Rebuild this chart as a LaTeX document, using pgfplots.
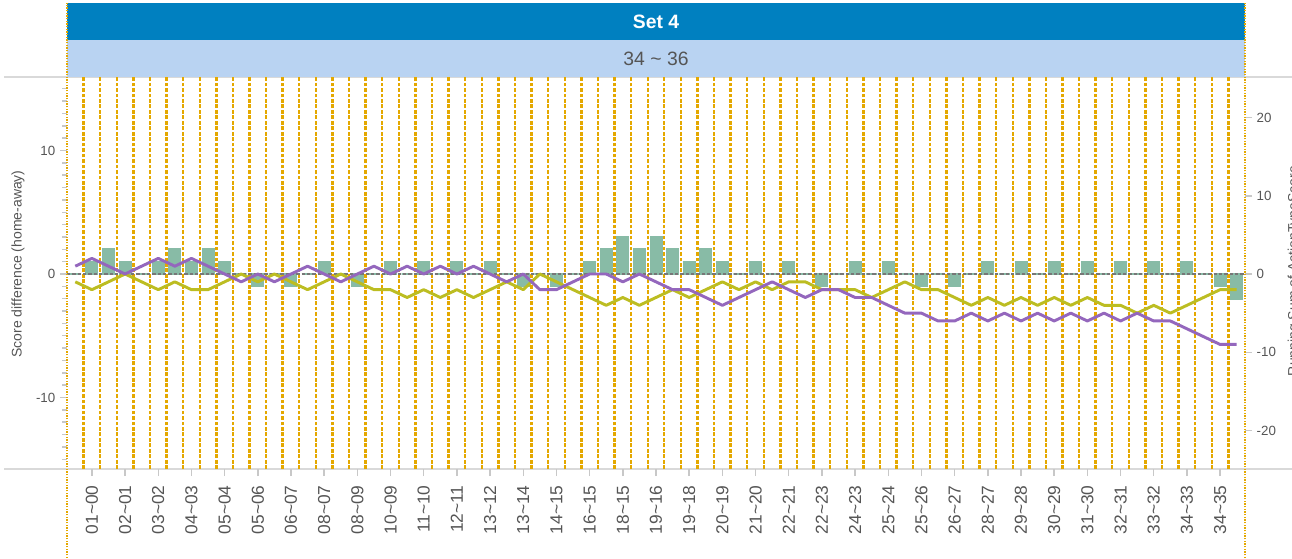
\documentclass[border=0pt]{standalone}
\usepackage{fontspec}
\setmainfont{Liberation Sans}
\usepackage{pgfplots}
\pgfplotsset{compat=1.18}
\definecolor{hdrdark}{RGB}{0,128,192}
\definecolor{hdrlight}{RGB}{185,211,242}
\definecolor{gridorange}{RGB}{228,168,0}
\definecolor{barcol}{RGB}{136,187,166}
\definecolor{purp}{RGB}{148,103,189}
\definecolor{olivec}{RGB}{188,189,34}
\definecolor{txtgray}{RGB}{85,85,85}
\definecolor{tickgray}{RGB}{200,200,200}
\definecolor{rulegray}{RGB}{217,217,217}
\newcommand{\tl}{\textasciitilde}
\begin{document}
\begin{tikzpicture}
\begin{scope}[x=0.75pt,y=0.75pt]
\draw[rulegray, line width=1.5pt] (4,481) -- (1292,481);
\draw[rulegray, line width=1.5pt] (4,89) -- (1292,89);
\fill[hdrdark] (67,518) rectangle (1245,555);
\fill[hdrlight] (67,481) rectangle (1245,518);
\end{scope}

% slot separators
\begin{axis}[
  at={(50.25pt,66.75pt)}, anchor=south west,
  scale only axis, width=883.5pt, height=294pt,
  xmin=-0.5, xmax=70.5, ymin=0, ymax=1, hide axis, clip=false,
]
\pgfplotsinvokeforeach{0.5,1.5,...,69.5}{
  \draw[gridorange, line width=1.8pt, dash pattern=on 2.8pt off 1.3pt] (axis cs:#1,0) -- (axis cs:#1,1);
}
\end{axis}

\begin{axis}[
  at={(50.25pt,66.75pt)}, anchor=south west,
  scale only axis, width=883.5pt, height=294pt,
  xmin=-0.5, xmax=70.5, ymin=-15.79, ymax=15.95,
  axis x line*=bottom, axis y line*=left,
  axis line style={draw=none},
  xtick={1,3,...,69},
  xticklabels={01\tl 00,02\tl 01,03\tl 02,04\tl 03,05\tl 04,05\tl 06,06\tl 07,08\tl 07,08\tl 09,10\tl 09,11\tl 10,12\tl 11,13\tl 12,13\tl 14,14\tl 15,16\tl 15,18\tl 15,19\tl 16,19\tl 18,20\tl 19,21\tl 20,22\tl 21,22\tl 23,24\tl 23,25\tl 24,25\tl 26,26\tl 27,28\tl 27,29\tl 28,30\tl 29,31\tl 30,32\tl 31,33\tl 32,34\tl 33,34\tl 35},
  xticklabel style={rotate=90, anchor=east, font=\fontsize{13}{15}\selectfont, text=txtgray},
  xticklabel shift=3.5pt,
  ytick={-10,0,10},
  minor ytick={-15,...,15},
  yticklabel style={font=\fontsize{10}{12}\selectfont, text=txtgray},
  tick style={tickgray, line width=1.1pt},
  tick align=outside,
  major tick length=5.25pt,
  minor tick length=3.5pt,
  /pgf/number format/assume math mode=true,
]
\addplot[ybar, bar width=8.25pt, fill=barcol, draw=barcol, line width=1.5pt] coordinates {
(0,0)(1,1)(2,2)(3,1)(4,0)(5,1)(6,2)(7,1)(8,2)(9,1)(10,0)(11,-1)(12,0)(13,-1)(14,0)(15,1)(16,0)(17,-1)(18,0)(19,1)(20,0)(21,1)(22,0)(23,1)(24,0)(25,1)(26,0)(27,-1)(28,0)(29,-1)(30,0)(31,1)(32,2)(33,3)(34,2)(35,3)(36,2)(37,1)(38,2)(39,1)(40,0)(41,1)(42,0)(43,1)(44,0)(45,-1)(46,0)(47,1)(48,0)(49,1)(50,0)(51,-1)(52,0)(53,-1)(54,0)(55,1)(56,0)(57,1)(58,0)(59,1)(60,0)(61,1)(62,0)(63,1)(64,0)(65,1)(66,0)(67,1)(68,0)(69,-1)(70,-2)
};
\addplot[txtgray!80, line width=0.9pt, dash pattern=on 2.5pt off 1.5pt, no marks] coordinates {(-0.5,0) (70.5,0)};
\end{axis}

\begin{axis}[
  at={(50.25pt,66.75pt)}, anchor=south west,
  scale only axis, width=883.5pt, height=294pt,
  xmin=-0.5, xmax=70.5, ymin=-24.92, ymax=25.18,
  axis x line=none, axis y line*=right,
  axis line style={draw=none},
  ytick={-20,-10,...,20},
  yticklabel style={font=\fontsize{10}{12}\selectfont, text=txtgray},
  tick style={tickgray, line width=1.1pt},
  tick align=outside, major tick length=5.25pt,
  /pgf/number format/assume math mode=true,
]
\addplot[olivec, line width=2.2pt, no marks, line join=round] coordinates {
(0,-1)(1,-2)(2,-1)(3,0)(4,-1)(5,-2)(6,-1)(7,-2)(8,-2)(9,-1)(10,0)(11,-1)(12,0)(13,-1)(14,-2)(15,-1)(16,0)(17,-1)(18,-2)(19,-2)(20,-3)(21,-2)(22,-3)(23,-2)(24,-3)(25,-2)(26,-1)(27,-2)(28,0)(29,-1)(30,-2)(31,-3)(32,-4)(33,-3)(34,-4)(35,-3)(36,-2)(37,-3)(38,-2)(39,-1)(40,-2)(41,-1)(42,-2)(43,-1)(44,-1)(45,-2)(46,-2)(47,-2)(48,-3)(49,-2)(50,-1)(51,-2)(52,-2)(53,-3)(54,-4)(55,-3)(56,-4)(57,-3)(58,-4)(59,-3)(60,-4)(61,-3)(62,-4)(63,-4)(64,-5)(65,-4)(66,-5)(67,-4)(68,-3)(69,-2)(70,-2)
};
\addplot[purp, line width=2.2pt, no marks, line join=round] coordinates {
(0,1)(1,2)(2,1)(3,0)(4,1)(5,2)(6,1)(7,2)(8,1)(9,0)(10,-1)(11,0)(12,-1)(13,0)(14,1)(15,0)(16,-1)(17,0)(18,1)(19,0)(20,1)(21,0)(22,1)(23,0)(24,1)(25,0)(26,-1)(27,0)(28,-2)(29,-2)(30,-1)(31,0)(32,0)(33,-1)(34,0)(35,-1)(36,-2)(37,-2)(38,-3)(39,-4)(40,-3)(41,-2)(42,-1)(43,-2)(44,-3)(45,-2)(46,-2)(47,-3)(48,-3)(49,-4)(50,-5)(51,-5)(52,-6)(53,-6)(54,-5)(55,-6)(56,-5)(57,-6)(58,-5)(59,-6)(60,-5)(61,-6)(62,-5)(63,-6)(64,-5)(65,-6)(66,-6)(67,-7)(68,-8)(69,-9)(70,-9)
};
\end{axis}

\begin{scope}[x=0.75pt,y=0.75pt]
\draw[gridorange, line width=1.5pt, dash pattern=on 1.1pt off 0.9pt] (67,0) -- (67,555);
\draw[gridorange, line width=1.5pt, dash pattern=on 1.1pt off 0.9pt] (1245,0) -- (1245,555);
\node[text=white, font=\fontsize{14.5}{17}\selectfont\bfseries] at (656,536.5) {Set 4};
\node[text=txtgray, font=\fontsize{14.5}{17}\selectfont] at (656,499.5) {34 \textasciitilde{} 36};
\node[rotate=90, text=txtgray, font=\fontsize{10.5}{12}\selectfont] at (18,294) {Score difference (home-away)};
\node[rotate=90, anchor=north, text=txtgray, font=\fontsize{10.5}{12}\selectfont] at (1283,287) {Running Sum of ActionTypeScore};
\end{scope}
\pgfresetboundingbox
\path (0,0) rectangle (969pt,418.5pt);
\end{tikzpicture}
\end{document}
